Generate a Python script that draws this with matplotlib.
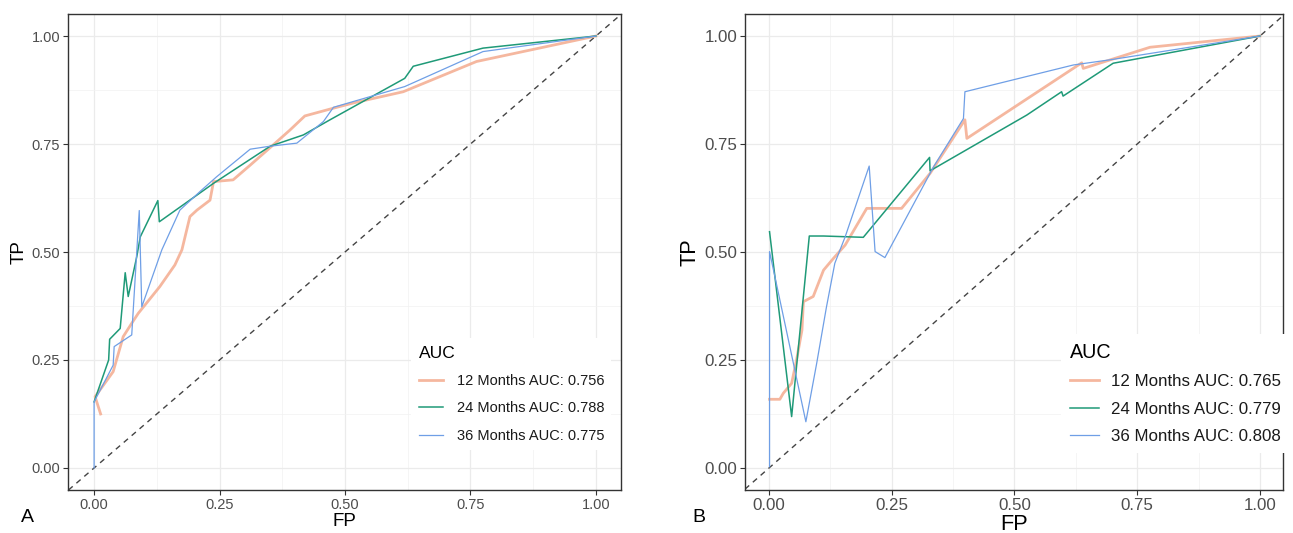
#--------importing modules-------------
import matplotlib.pyplot as plt
from matplotlib.ticker import MultipleLocator

plt.rcParams['font.family'] = ['Liberation Sans', 'DejaVu Sans']

#-------data-------
# panel A
a12_fp = [0.013, 0.002, 0.038, 0.058, 0.075, 0.088, 0.131, 0.161, 0.175, 0.191, 0.205, 0.231, 0.238,
          0.277, 0.311, 0.357, 0.390, 0.420, 0.477, 0.520, 0.616, 0.762, 1.0]
a12_tp = [0.125, 0.165, 0.223, 0.304, 0.335, 0.358, 0.420, 0.470, 0.505, 0.582, 0.597, 0.620, 0.663,
          0.667, 0.701, 0.748, 0.782, 0.815, 0.833, 0.846, 0.871, 0.941, 1.0]

a24_fp = [0.0, 0.029, 0.031, 0.052, 0.062, 0.068, 0.085, 0.092, 0.127, 0.130, 0.238, 0.351, 0.417,
          0.470, 0.619, 0.636, 0.775, 1.0]
a24_tp = [0.153, 0.250, 0.298, 0.323, 0.452, 0.397, 0.489, 0.535, 0.619, 0.570, 0.659, 0.745, 0.771,
          0.806, 0.902, 0.930, 0.972, 1.0]

a36_fp = [0.0, 0.0, 0.038, 0.040, 0.075, 0.090, 0.095, 0.135, 0.171, 0.211, 0.244, 0.311, 0.351,
          0.404, 0.457, 0.477, 0.619, 0.775, 1.0]
a36_tp = [0.0, 0.153, 0.238, 0.281, 0.308, 0.596, 0.373, 0.505, 0.597, 0.640, 0.674, 0.738, 0.745,
          0.752, 0.802, 0.835, 0.883, 0.964, 1.0]

# panel B
b12_fp = [0.001, 0.022, 0.029, 0.046, 0.056, 0.067, 0.070, 0.090, 0.111, 0.131, 0.155, 0.199, 0.270,
          0.328, 0.399, 0.403, 0.637, 0.640, 0.776, 1.0]
b12_tp = [0.159, 0.159, 0.173, 0.196, 0.250, 0.319, 0.385, 0.397, 0.458, 0.485, 0.516, 0.601, 0.601,
          0.682, 0.806, 0.763, 0.938, 0.925, 0.974, 1.0]

b24_fp = [0.001, 0.046, 0.082, 0.111, 0.192, 0.327, 0.328, 0.525, 0.596, 0.599, 0.701, 1.0]
b24_tp = [0.547, 0.119, 0.537, 0.537, 0.534, 0.719, 0.688, 0.817, 0.871, 0.861, 0.937, 1.0]

b36_fp = [0.001, 0.001, 0.075, 0.097, 0.117, 0.134, 0.155, 0.204, 0.216, 0.236, 0.335, 0.396, 0.399,
          0.620, 0.701, 1.0]
b36_tp = [0.003, 0.501, 0.107, 0.242, 0.373, 0.474, 0.535, 0.699, 0.501, 0.487, 0.697, 0.809, 0.871,
          0.933, 0.946, 1.0]

labels_a = ['12 Months AUC: 0.756', '24 Months AUC: 0.788', '36 Months AUC: 0.775']
labels_b = ['12 Months AUC: 0.765', '24 Months AUC: 0.779', '36 Months AUC: 0.808']
ticks = [0.0, 0.25, 0.5, 0.75, 1.0]

c12 = '#F4B095'
c24 = '#1F9A78'
c36 = '#6F9FE6'

#-------figure and axes-------------------
W, H = 1293, 533
fig = plt.figure(figsize=(W / 100, H / 100), dpi=100)
axA = fig.add_axes([68 / W, 43 / H, 553 / W, 476 / H])
axB = fig.add_axes([745 / W, 43 / H, 538 / W, 476 / H])


def style(ax, scale, xlim):
    ax.set_xlim(xlim)
    ax.set_ylim(-0.051, 1.051)
    ax.set_xticks(ticks)
    ax.set_yticks(ticks)
    ax.set_xticklabels(['%.2f' % t for t in ticks])
    ax.set_yticklabels(['%.2f' % t for t in ticks])
    ax.xaxis.set_minor_locator(MultipleLocator(0.125))
    ax.yaxis.set_minor_locator(MultipleLocator(0.125))
    ax.grid(which='major', color='#EBEBEB', lw=0.9)
    ax.grid(which='minor', color='#F2F2F2', lw=0.5)
    ax.set_axisbelow(True)
    ax.tick_params(which='major', length=3.5, width=0.8, color='#333333',
                   labelcolor='#4D4D4D', labelsize=10.5 * scale, pad=2)
    ax.tick_params(which='minor', length=0)
    for s in ax.spines.values():
        s.set_color('#333333')
        s.set_linewidth(1.0)
    ax.set_xlabel('FP', fontsize=13.5 * scale, labelpad=1)
    ax.set_ylabel('TP', fontsize=13.5 * scale, labelpad=3)
    ax.axline((0, 0), (1, 1), color='#444444', lw=1.0, ls=(0, (4, 3.5)))


style(axA, 1.0, (-0.052, 1.05))
style(axB, 1.16, (-0.049, 1.047))

#---------plotting the curves-------------
axA.plot(a12_fp, a12_tp, color=c12, lw=2.0, alpha=0.9, label=labels_a[0])
axA.plot(a24_fp, a24_tp, color=c24, lw=1.1, label=labels_a[1])
axA.plot(a36_fp, a36_tp, color=c36, lw=0.9, label=labels_a[2])

axB.plot(b12_fp, b12_tp, color=c12, lw=2.0, alpha=0.9, label=labels_b[0])
axB.plot(b24_fp, b24_tp, color=c24, lw=1.1, label=labels_b[1])
axB.plot(b36_fp, b36_tp, color=c36, lw=0.9, label=labels_b[2])

#---------legends-------------------------
legA = axA.legend(loc='upper left', bbox_to_anchor=(404 / W, 1 - 331 / H),
                  bbox_transform=fig.transFigure, title='AUC', fontsize=10.5,
                  title_fontsize=12.5, alignment='left', frameon=True,
                  facecolor='white', edgecolor='none', framealpha=1, fancybox=False,
                  handlelength=1.7, handletextpad=0.9, labelspacing=0.92, borderpad=0.5)
legB = axB.legend(loc='upper left', bbox_to_anchor=(1053 / W, 1 - 326 / H),
                  bbox_transform=fig.transFigure, title='AUC', fontsize=12.2,
                  title_fontsize=14.2, alignment='left', frameon=True,
                  facecolor='white', edgecolor='none', framealpha=1, fancybox=False,
                  handlelength=1.7, handletextpad=0.75, labelspacing=0.73, borderpad=0.5)
for leg in (legA, legB):
    leg.set_clip_on(False)
    for t in leg.get_texts():
        t.set_color('#1A1A1A')

fig.text(27 / W, 1 - 518 / H, 'A', fontsize=14, ha='center', va='center')
fig.text(699 / W, 1 - 518 / H, 'B', fontsize=14, ha='center', va='center')

plt.savefig('out.png', dpi=100)
